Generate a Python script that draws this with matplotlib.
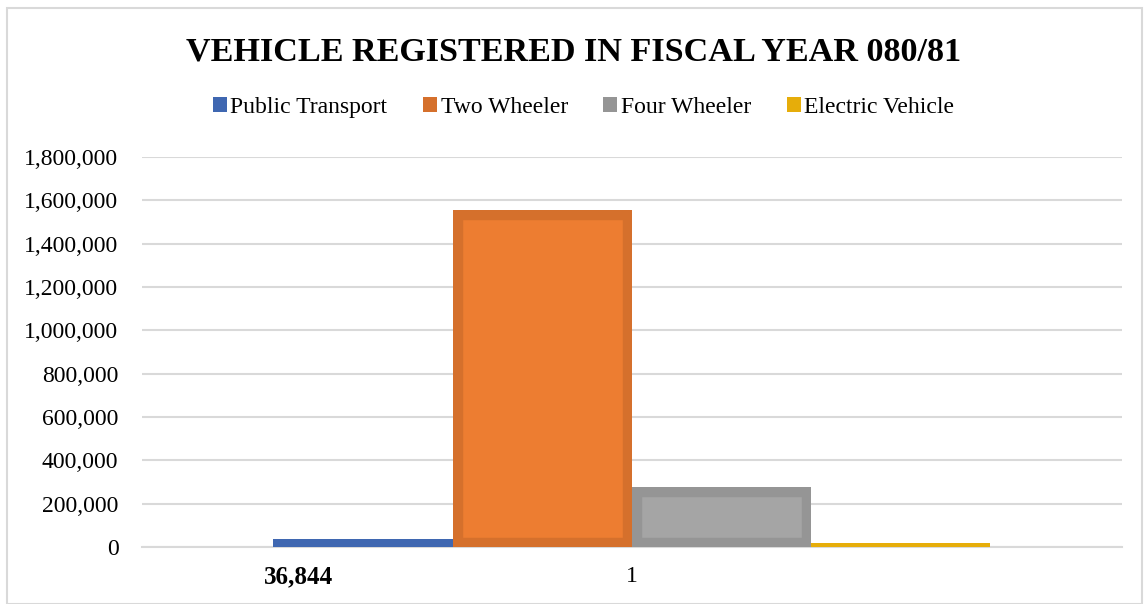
import matplotlib.pyplot as plt
from matplotlib.patches import Patch
from matplotlib.ticker import FuncFormatter

# Data
series = ['Public Transport', 'Two Wheeler', 'Four Wheeler', 'Electric Vehicle']
values = [36844, 1555000, 277000, 18500]
fill_colors = ['#4472C4', '#ED7D31', '#A5A5A5', '#FFC000']
edge_colors = ['#3F67B1', '#D5702C', '#959595', '#E6AD0A']
category = '1'
label_text = '36,844'

plt.rcParams['font.family'] = ['Liberation Serif', 'DejaVu Serif']

fig = plt.figure(figsize=(11.47, 6.04), dpi=100)
ax = fig.add_axes([0.1238, 0.0944, 0.854, 0.6457])

bar_w = 0.183
for i, (name, v) in enumerate(zip(series, values)):
    x = (i - 1.5) * bar_w
    bars = ax.bar(x, v, width=bar_w, color=fill_colors[i], edgecolor=edge_colors[i],
                  linewidth=14, zorder=3)
    for b in bars:
        b.set_clip_path(b)  # keep the border inside the bar

ax.set_xlim(-0.5, 0.5)
ax.set_ylim(0, 1800000)
ax.set_yticks(range(0, 1800001, 200000))
ax.yaxis.set_major_formatter(FuncFormatter(lambda v, p: f'{int(v):,}'))
ax.set_xticks([0])
ax.set_xticklabels([category])
ax.tick_params(axis='both', length=0, labelsize=17, colors='black')
ax.tick_params(axis='y', pad=17)
ax.tick_params(axis='x', pad=14)
ax.grid(axis='y', color='#D9D9D9', linewidth=1.5, zorder=0)
for s in ['top', 'right', 'left']:
    ax.spines[s].set_visible(False)
ax.spines['bottom'].set_color('#D9D9D9')
ax.spines['bottom'].set_linewidth(1.5)

# data label sitting under the first bar
ax.annotate(label_text, xy=(-2 * bar_w, 0), xytext=(-7, -13), textcoords='offset points',
            ha='left', va='top', fontsize=18, fontweight='bold')

fig.suptitle('VEHICLE REGISTERED IN FISCAL YEAR 080/81', y=0.94, fontsize=24.6,
             fontweight='bold')
handles = [Patch(facecolor=edge_colors[i], edgecolor='none', label=series[i])
           for i in range(len(series))]
fig.legend(handles=handles, loc='center', bbox_to_anchor=(0.5087, 0.822), ncol=4,
           frameon=False, fontsize=17, handlelength=0.6, handleheight=0.6,
           handletextpad=0.15, columnspacing=1.5)

# chart outline
fig.patches.append(plt.Rectangle((0.006, 0.0), 0.99, 0.987, transform=fig.transFigure,
                                 fill=False, edgecolor='#D9D9D9', linewidth=1.5))

fig.savefig('out.png', dpi=100)
